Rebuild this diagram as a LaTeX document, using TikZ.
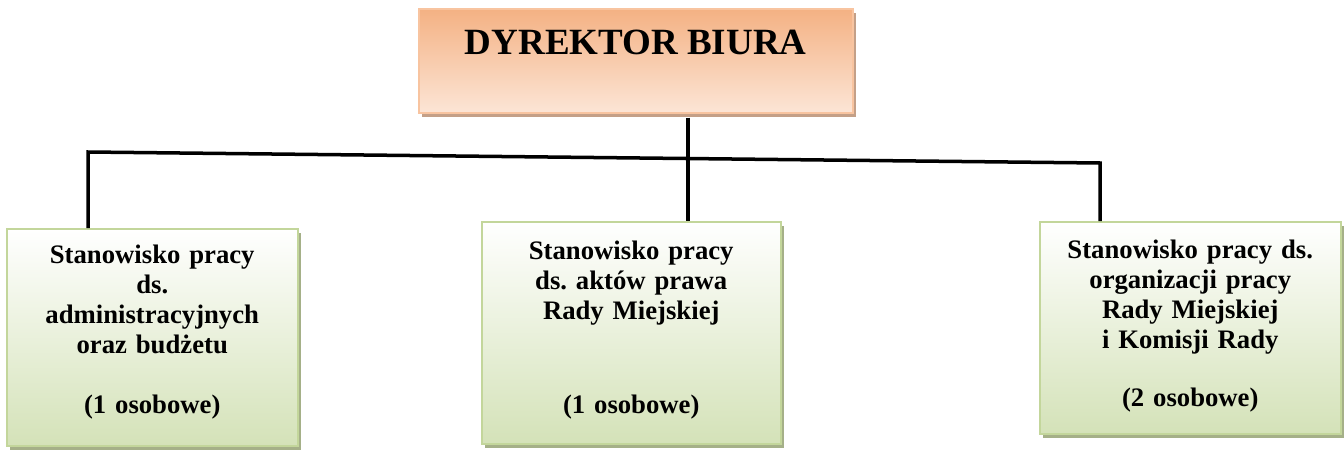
\documentclass[tikz,border=0pt]{standalone}
\usepackage{fontspec}
\setmainfont{Liberation Serif}
\frenchspacing
\usetikzlibrary{positioning,shadows}
\definecolor{peachtop}{RGB}{244,177,131}
\definecolor{peachbot}{RGB}{252,229,214}
\definecolor{peachline}{RGB}{248,196,160}
\definecolor{peachshadow}{RGB}{196,160,136}
\definecolor{greenbot}{RGB}{212,226,184}
\definecolor{greenline}{RGB}{195,214,155}
\definecolor{greenshadow}{RGB}{165,176,136}
\tikzset{
  headbox/.style={draw=peachline, line width=1.5pt, top color=peachtop, bottom color=peachbot,
    drop shadow={shadow xshift=3pt, shadow yshift=-4pt, fill=peachshadow, opacity=1},
    anchor=north west, inner sep=0pt},
  unitbox/.style={draw=greenline, line width=1.5pt, top color=white, bottom color=greenbot,
    drop shadow={shadow xshift=3pt, shadow yshift=-4pt, fill=greenshadow, opacity=1},
    anchor=north west, inner sep=0pt},
  headtext/.style={font=\fontsize{37pt}{42pt}\selectfont\bfseries, inner sep=0pt},
  unittext/.style={font=\fontsize{26.7pt}{30pt}\selectfont\bfseries, align=center, text width=280pt, inner sep=0pt},
  link/.style={line width=3.5pt}
}
\begin{document}
\begin{tikzpicture}[x=1pt,y=-1pt]
            \useasboundingbox (0,0) rectangle (1344,450);
            \node[headbox, minimum width=434pt, minimum height=104pt] (dyr) at (418,8) {};
            \node[headtext, below=22pt of dyr.north] (dyrtext) {DYREKTOR BIURA};
            \node[unitbox, minimum width=291pt, minimum height=217pt] (lbox) at (6,228) {};
            \node[unitbox, minimum width=299pt, minimum height=222pt] (mbox) at (481,221) {};
            \node[unitbox, minimum width=301pt, minimum height=212pt] (rbox) at (1039,221) {};
            \node[unittext, below=17pt of lbox.north] (ltext) {Stanowisko pracy\\ds.\\administracyjnych\\oraz budżetu\\[30pt](1 osobowe)};
            \node[unittext, below=20pt of mbox.north] (mtext) {Stanowisko pracy\\ds. aktów prawa\\Rady Miejskiej\\[64pt](1 osobowe)};
            \node[unittext, below=19pt of rbox.north] (rtext) {Stanowisko pracy ds.\\organizacji pracy\\Rady Miejskiej\\i Komisji Rady\\[28pt](2 osobowe)};
            \coordinate (ljoin) at (88,152);
            \coordinate (rjoin) at (1100,163);
            \coordinate (mjoin) at (688,158);
            \draw[link] (lbox.north -| ljoin) -- (ljoin) -- (rjoin) -- (rbox.north -| rjoin);
            \draw[link, shorten <=4pt] (dyr.south -| mjoin) -- (mbox.north -| mjoin);
        \end{tikzpicture}
\end{document}
